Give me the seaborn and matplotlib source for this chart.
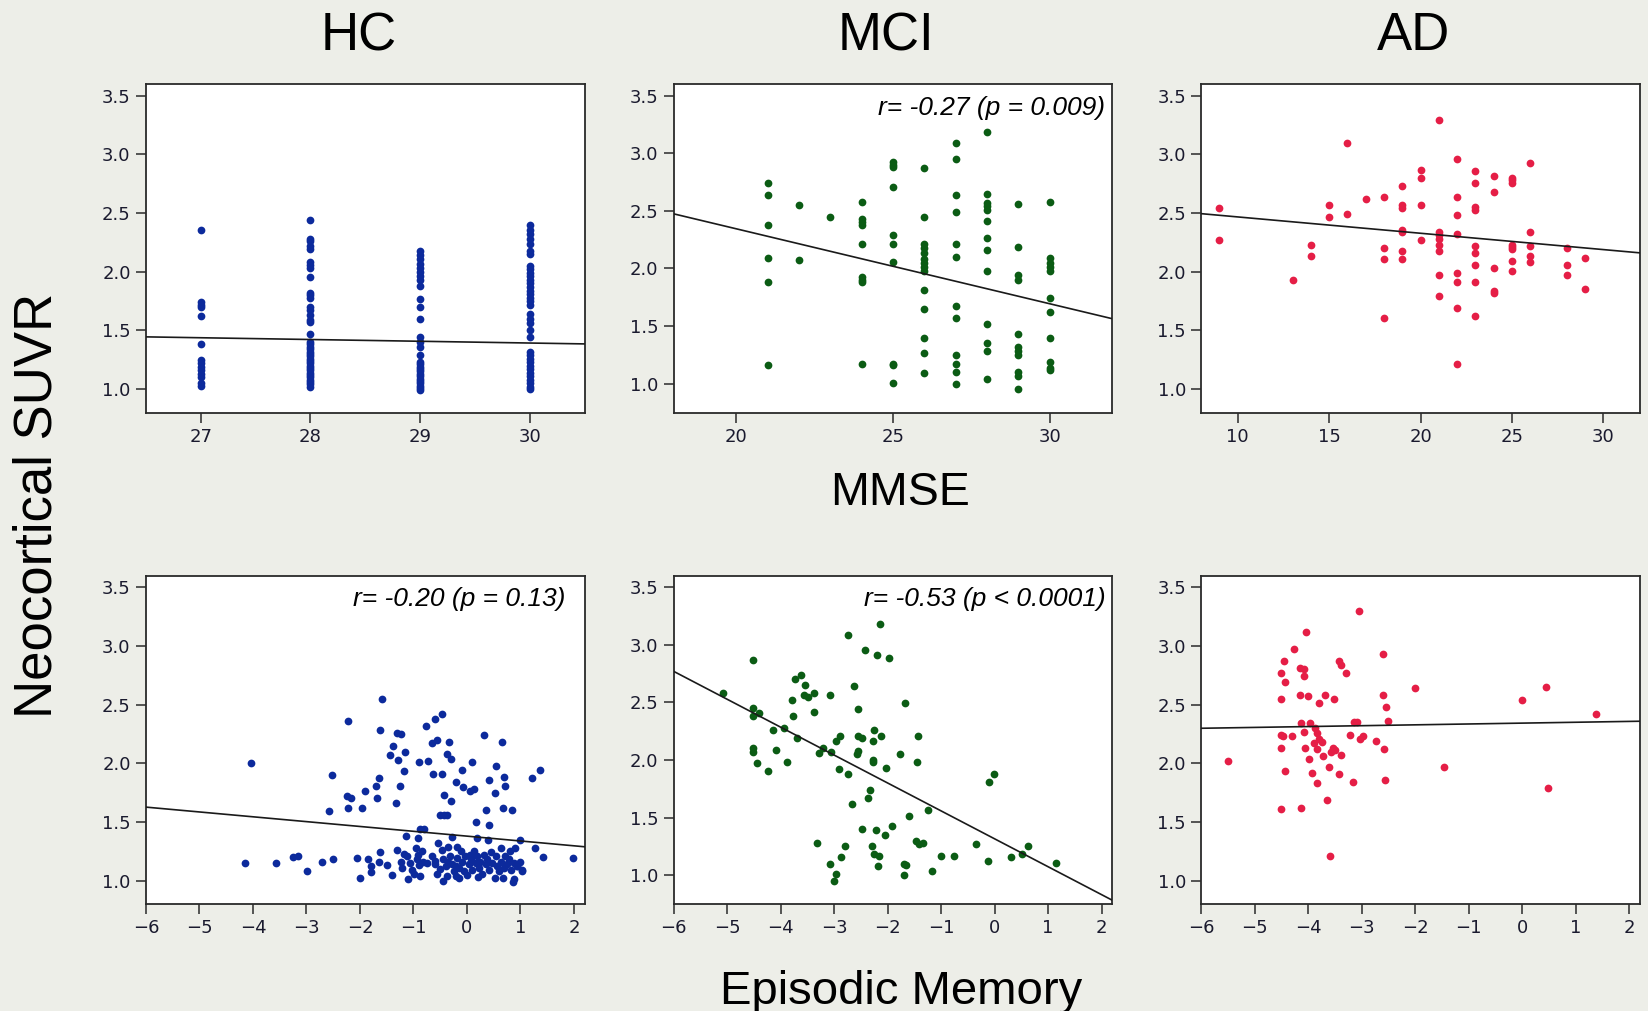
import matplotlib
matplotlib.use("Agg")
import matplotlib.pyplot as plt
import pandas as pd
import seaborn as sns

# --- MMSE vs neocortical SUVR (values per MMSE score) ---
hc_mmse_scores = [27, 28, 29, 30]
hc_mmse_suvr = [
    [2.36, 1.74, 1.72, 1.70, 1.62, 1.385, 1.25, 1.22, 1.19, 1.16, 1.13,
     1.10, 1.05, 1.03],
    [2.44, 2.28, 2.26, 2.22, 2.19, 2.08, 2.055, 2.03, 1.955, 1.82, 1.80,
     1.78, 1.70, 1.67, 1.63, 1.59, 1.57, 1.47, 1.40, 1.38, 1.36, 1.34,
     1.32, 1.30, 1.28, 1.26, 1.24, 1.22, 1.20, 1.18, 1.16, 1.14, 1.12,
     1.10, 1.08, 1.06, 1.04, 1.02],
    [2.18, 2.14, 2.11, 2.07, 2.03, 2.00, 1.96, 1.93, 1.88, 1.77, 1.70,
     1.60, 1.445, 1.40, 1.36, 1.29, 1.23, 1.21, 1.19, 1.17, 1.15, 1.13,
     1.11, 1.09, 1.07, 1.05, 1.03, 1.01, 0.99],
    [2.395, 2.36, 2.32, 2.28, 2.24, 2.18, 2.15, 2.05, 2.02, 1.99, 1.96,
     1.93, 1.90, 1.87, 1.84, 1.81, 1.78, 1.75, 1.72, 1.64, 1.60, 1.56,
     1.50, 1.445, 1.32, 1.29, 1.26, 1.23, 1.20, 1.17, 1.14, 1.11, 1.08,
     1.05, 1.02, 1.00],
]

mci_mmse_scores = [21, 22, 23, 24, 25, 26, 27, 28, 29, 30]
mci_mmse_suvr = [
    [2.74, 2.64, 2.38, 2.09, 1.88, 1.16],
    [2.55, 2.07],
    [2.45],
    [2.58, 2.43, 2.40, 2.38, 2.21, 1.93, 1.90, 1.88, 1.17],
    [2.92, 2.90, 2.88, 2.71, 2.29, 2.21, 2.06, 1.17, 1.16, 1.01],
    [2.87, 2.45, 2.21, 2.18, 2.13, 2.08, 2.05, 2.01, 1.98, 1.81, 1.65,
     1.40, 1.27, 1.09],
    [3.09, 2.95, 2.64, 2.49, 2.21, 2.10, 1.67, 1.57, 1.25, 1.17, 1.10, 1.00],
    [3.18, 2.65, 2.57, 2.54, 2.51, 2.41, 2.26, 2.16, 1.98, 1.52, 1.35,
     1.28, 1.04],
    [2.56, 2.19, 1.94, 1.90, 1.43, 1.32, 1.28, 1.25, 1.10, 1.07, 0.95],
    [2.58, 2.09, 2.05, 2.01, 1.98, 1.74, 1.62, 1.40, 1.19, 1.14, 1.12],
]

ad_mmse_scores = [9, 13, 14, 15, 16, 17, 18, 19, 20, 21, 22, 23, 24, 25,
                  26, 28, 29]
ad_mmse_suvr = [
    [2.54, 2.27],
    [1.93],
    [2.23, 2.13],
    [2.57, 2.47],
    [3.10, 2.49],
    [2.62],
    [2.64, 2.20, 2.11, 1.61],
    [2.73, 2.57, 2.54, 2.36, 2.34, 2.18, 2.11],
    [2.87, 2.80, 2.57, 2.27],
    [3.29, 2.34, 2.31, 2.28, 2.23, 2.18, 1.97, 1.79],
    [2.96, 2.64, 2.48, 2.32, 1.99, 1.91, 1.69, 1.21],
    [2.86, 2.76, 2.55, 2.53, 2.22, 2.16, 2.06, 1.91, 1.62],
    [2.82, 2.68, 2.03, 1.84, 1.82],
    [2.80, 2.78, 2.76, 2.23, 2.21, 2.19, 2.09, 2.01],
    [2.93, 2.34, 2.22, 2.13, 2.08],
    [2.20, 2.06, 1.97],
    [2.12, 1.85],
]

# --- Episodic memory vs neocortical SUVR (x, y) ---
hc_em = [
    (-4.04, 2.00), (-4.14, 1.15), (-3.57, 1.15), (-3.26, 1.20), (-3.16, 1.21),
    (-2.99, 1.08), (-2.70, 1.16), (-2.50, 1.18), (-2.52, 1.90), (-2.58, 1.59),
    (-2.22, 2.36), (-2.24, 1.72), (-2.17, 1.70), (-2.22, 1.62), (-2.05, 1.19),
    (-2.00, 1.02), (-1.96, 1.62), (-1.90, 1.76), (-1.85, 1.18), (-1.80, 1.12),
    (-1.80, 1.07), (-1.70, 1.81), (-1.65, 1.87), (-1.68, 1.70), (-1.63, 2.28),
    (-1.59, 2.55), (-1.63, 1.24), (-1.65, 1.16), (-1.50, 1.13), (-1.44, 2.07),
    (-1.38, 2.15), (-1.31, 2.26), (-1.24, 2.25), (-1.29, 2.03), (-1.26, 1.81),
    (-1.17, 1.93), (-1.15, 2.10), (-1.32, 1.66), (-1.40, 1.05), (-1.30, 1.26),
    (-1.24, 1.16), (-1.21, 1.11), (-1.17, 1.23), (-1.12, 1.21), (-1.11, 1.01),
    (-1.13, 1.38), (-1.06, 1.15), (-1.02, 1.09), (-0.99, 1.06), (-0.96, 1.28),
    (-0.92, 1.22), (-0.93, 1.18), (-0.90, 1.13), (-0.88, 1.04), (-0.84, 1.25),
    (-0.82, 1.16), (-0.74, 1.15), (-0.92, 1.36), (-0.88, 1.44), (-0.81, 1.44),
    (-0.90, 2.01), (-0.73, 2.02), (-0.76, 2.32), (-0.65, 2.17), (-0.59, 2.38),
    (-0.56, 2.20), (-0.47, 2.42), (-0.63, 1.91), (-0.46, 1.91), (-0.43, 1.73),
    (-0.50, 1.56), (-0.43, 1.56), (-0.37, 1.56), (-0.38, 2.08), (-0.30, 2.04),
    (-0.34, 2.18), (-0.30, 1.68), (-0.28, 1.37), (-0.54, 1.32), (-0.65, 1.21),
    (-0.59, 1.14), (-0.56, 1.06), (-0.46, 1.26), (-0.44, 1.18), (-0.40, 1.12),
    (-0.37, 1.04), (-0.36, 1.29), (-0.31, 1.21), (-0.28, 1.14), (-0.25, 1.08),
    (-0.21, 1.04), (-0.20, 1.84), (-0.09, 1.94), (-0.07, 1.80), (0.06, 1.76),
    (0.13, 1.78), (0.10, 2.01), (0.17, 1.50), (0.19, 1.36), (0.31, 2.24),
    (0.35, 1.60), (0.41, 1.86), (0.41, 1.47), (0.40, 1.35), (0.53, 1.75),
    (0.54, 1.98), (0.66, 2.18), (0.68, 1.62), (0.69, 1.88), (0.72, 1.81),
    (0.63, 1.28), (0.85, 1.60), (0.90, 1.28), (0.86, 0.99), (1.00, 1.35),
    (1.03, 1.08), (0.94, 1.12), (1.22, 1.87), (1.36, 1.94), (1.28, 1.28),
    (1.42, 1.20), (1.99, 1.19), (0.52, 1.02), (0.88, 1.01),
    (-0.18, 1.29), (-0.12, 1.25), (-0.18, 1.19), (-0.09, 1.16), (-0.15, 1.11),
    (-0.06, 1.08), (-0.03, 1.21), (0.04, 1.14), (0.07, 1.18), (0.10, 1.09),
    (0.13, 1.25), (0.16, 1.15), (0.19, 1.21), (0.22, 1.11), (0.25, 1.16),
    (0.29, 1.06), (0.32, 1.22), (0.35, 1.14), (0.38, 1.18), (0.41, 1.09),
    (0.47, 1.15), (0.54, 1.21), (0.57, 1.12), (0.60, 1.08), (0.63, 1.16),
    (0.69, 1.11), (0.72, 1.21), (0.75, 1.14), (0.78, 1.18), (0.82, 1.09),
    (0.88, 1.15), (0.94, 1.12), (1.00, 1.16), (1.03, 1.09),
    (-0.60, 1.17), (-0.50, 1.10), (-0.45, 1.00), (-0.35, 1.16), (-0.20, 1.12),
    (-0.15, 1.02), (0.00, 1.05), (0.05, 1.22), (0.20, 1.03), (0.45, 1.24),
    (0.68, 1.02), (0.80, 1.25),
]

mci_em = [
    (-5.07, 2.58), (-4.51, 2.87), (-4.51, 2.45), (-4.51, 2.38), (-4.41, 2.41),
    (-4.51, 2.10), (-4.51, 2.07), (-4.45, 1.97), (-4.23, 1.90), (-4.14, 2.26),
    (-4.08, 2.09), (-3.93, 2.28), (-3.88, 1.98), (-3.70, 2.19), (-3.78, 2.52),
    (-3.73, 2.70), (-3.76, 2.38), (-3.62, 2.74), (-3.54, 2.65), (-3.56, 2.56),
    (-3.48, 2.55), (-3.37, 2.58), (-3.37, 2.42), (-3.28, 2.06), (-3.20, 2.10),
    (-3.31, 1.28), (-3.08, 2.56), (-3.06, 2.07), (-3.08, 1.10), (-2.97, 1.01),
    (-3.00, 0.95), (-2.97, 2.16), (-2.89, 2.21), (-2.91, 1.92), (-2.74, 1.88),
    (-2.87, 1.16), (-2.80, 1.25), (-2.74, 3.08), (-2.67, 1.62), (-2.63, 2.64),
    (-2.55, 2.44), (-2.56, 2.21), (-2.47, 2.19), (-2.55, 2.08), (-2.58, 2.05),
    (-2.42, 2.95), (-2.47, 1.40), (-2.36, 1.67), (-2.33, 1.74), (-2.30, 1.25),
    (-2.28, 2.16), (-2.25, 2.26), (-2.27, 2.00), (-2.27, 1.98), (-2.25, 1.18),
    (-2.22, 1.39), (-2.19, 2.91), (-2.14, 3.18), (-2.13, 2.21), (-2.16, 1.17),
    (-2.17, 1.08), (-2.03, 1.93), (-2.04, 1.35), (-1.98, 2.88), (-1.92, 1.43),
    (-1.77, 2.05), (-1.67, 2.49), (-1.60, 1.51), (-1.69, 1.10), (-1.66, 1.09),
    (-1.70, 1.00), (-1.45, 1.98), (-1.43, 2.21), (-1.46, 1.30), (-1.41, 1.27),
    (-1.34, 1.28), (-1.24, 1.57), (-1.17, 1.04), (-1.01, 1.17), (-0.76, 1.17),
    (-0.35, 1.27), (-0.10, 1.81), (-0.01, 1.88), (-0.13, 1.12), (0.30, 1.16),
    (0.51, 1.18), (0.63, 1.25), (1.15, 1.11),
]

ad_em = [
    (-5.50, 2.02), (-4.51, 2.77), (-4.51, 2.55), (-4.51, 2.24), (-4.47, 2.23),
    (-4.51, 2.13), (-4.51, 1.61), (-4.46, 2.87), (-4.44, 2.69), (-4.44, 1.93),
    (-4.31, 2.23), (-4.26, 2.97), (-4.15, 2.81), (-4.15, 2.58), (-4.14, 2.34),
    (-4.14, 1.62), (-4.07, 2.80), (-4.08, 2.74), (-4.08, 2.27), (-4.06, 2.13),
    (-4.04, 3.12), (-4.01, 2.57), (-3.96, 2.34), (-3.98, 2.04), (-3.93, 1.92),
    (-3.87, 2.30), (-3.83, 2.26), (-3.90, 2.17), (-3.83, 2.12), (-3.79, 2.21),
    (-3.75, 2.18), (-3.83, 1.83), (-3.79, 2.51), (-3.73, 2.06), (-3.68, 2.58),
    (-3.65, 1.69), (-3.61, 1.97), (-3.60, 1.21), (-3.58, 2.10), (-3.54, 2.13),
    (-3.50, 2.11), (-3.51, 2.55), (-3.43, 1.91), (-3.42, 2.87), (-3.39, 2.84),
    (-3.39, 2.07), (-3.29, 2.77), (-3.22, 2.24), (-3.17, 1.84), (-3.15, 2.35),
    (-3.09, 2.35), (-3.06, 3.30), (-3.04, 2.21), (-2.98, 2.23), (-2.73, 2.19),
    (-2.61, 2.93), (-2.61, 2.58), (-2.59, 2.12), (-2.55, 2.48), (-2.51, 2.36),
    (-2.56, 1.86), (-2.00, 2.64), (-1.47, 1.97), (-0.01, 2.54), (0.44, 2.65),
    (0.49, 1.79), (1.38, 2.42),
]

# fitted regression lines as drawn in the figure (x at both ends, y at both ends)
fit_hc_mmse = ([26.5, 30.5], [1.445, 1.385])
fit_mci_mmse = ([18, 32], [2.474, 1.564])
fit_ad_mmse = ([8, 32], [2.495, 2.161])
fit_hc_em = ([-6, 2.2], [1.626, 1.288])
fit_mci_em = ([-6, 2.2], [2.769, 0.783])
fit_ad_em = ([-6, 2.2], [2.298, 2.358])

group_names = ["HC", "MCI", "AD"]
stats_text = {
    (0, 1): "r= -0.27 (p = 0.009)",
    (1, 0): "r= -0.20 (p = 0.13)",
    (1, 1): "r= -0.53 (p < 0.0001)",
}


def scores_frame(scores, values):
    rows = []
    for s, vals in zip(scores, values):
        for v in vals:
            rows.append((s, v))
    return pd.DataFrame(rows, columns=["x", "y"])


def points_frame(points):
    return pd.DataFrame(points, columns=["x", "y"])


bg = "#edeee8"
colors = ["#0c2a9c", "#0b5c14", "#e51e46"]

sns.set_style("white")
plt.rcParams["font.family"] = ["Liberation Sans", "DejaVu Sans"]
plt.rcParams["text.color"] = "black"

fig, axes = plt.subplots(2, 3, figsize=(16.49, 10.11), dpi=100)
fig.patch.set_facecolor(bg)
fig.subplots_adjust(left=0.0885, right=0.9945, top=0.9169, bottom=0.1058,
                    wspace=0.2027, hspace=0.496)

frames = [
    [scores_frame(hc_mmse_scores, hc_mmse_suvr),
     scores_frame(mci_mmse_scores, mci_mmse_suvr),
     scores_frame(ad_mmse_scores, ad_mmse_suvr)],
    [points_frame(hc_em), points_frame(mci_em), points_frame(ad_em)],
]
fits = [[fit_hc_mmse, fit_mci_mmse, fit_ad_mmse],
        [fit_hc_em, fit_mci_em, fit_ad_em]]
xlims = [[(26.5, 30.5), (18, 32), (8, 32)],
         [(-6, 2.2), (-6, 2.2), (-6, 2.2)]]
xticks = [[[27, 28, 29, 30], [20, 25, 30], [10, 15, 20, 25, 30]],
          [list(range(-6, 3))] * 3]
ylims = [(0.80, 3.60), (0.75, 3.60), (0.80, 3.60)]

for r in range(2):
    for c in range(3):
        ax = axes[r, c]
        ax.set_facecolor("white")
        df = frames[r][c]
        sns.scatterplot(data=df, x="x", y="y", ax=ax, color=colors[c],
                        s=31, linewidth=0, zorder=3)
        fx, fy = fits[r][c]
        sns.lineplot(x=fx, y=fy, ax=ax, color="#1a1a1a", linewidth=1.2,
                     zorder=4)
        ax.set_xlim(*xlims[r][c])
        ax.set_ylim(*ylims[c])
        ax.set_xticks(xticks[r][c])
        ax.set_yticks([1.0, 1.5, 2.0, 2.5, 3.0, 3.5])
        ax.set_yticklabels(["1.0", "1.5", "2.0", "2.5", "3.0", "3.5"])
        ax.set_xlabel("")
        ax.set_ylabel("")
        for sp in ax.spines.values():
            sp.set_color("#2a2a2a")
            sp.set_linewidth(1.3)
        ax.tick_params(axis="both", direction="out", length=7, width=1.1,
                       color="#2a2a2a", labelsize=13, labelcolor="#1a1a2e",
                       pad=4, left=True, bottom=True)
        for lab in ax.get_xticklabels() + ax.get_yticklabels():
            lab.set_family("DejaVu Sans")
        if (r, c) in stats_text:
            xpos = 0.957 if (r, c) == (1, 0) else 0.984
            ax.text(xpos, 0.965, stats_text[(r, c)], transform=ax.transAxes,
                    ha="right", va="top", fontsize=19, style="italic",
                    color="black")

for c, name in enumerate(group_names):
    pos = axes[0, c].get_position()
    fig.text((pos.x0 + pos.x1) / 2 - 0.004, 0.9505, name, ha="center",
             va="baseline", fontsize=38, color="black")

fig.text(0.5458, 0.5005, "MMSE", ha="center", va="baseline", fontsize=33.5,
         color="black")
fig.text(0.5464, 0.007, "Episodic Memory", ha="center", va="baseline",
         fontsize=34, color="black")
fig.text(0.0225, 0.5, "Neocortical SUVR", rotation=90, ha="center",
         va="center", fontsize=38, color="black")

fig.savefig("out.png", dpi=100, facecolor=bg)
